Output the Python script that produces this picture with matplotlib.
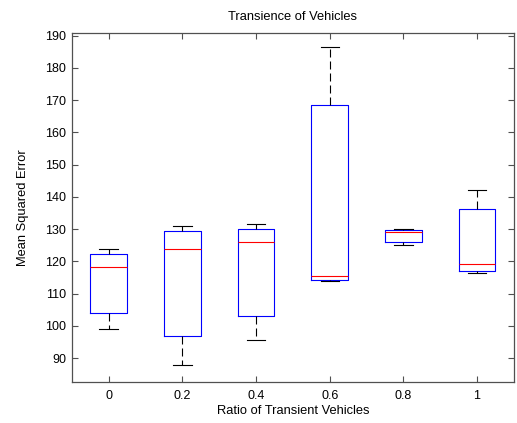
import numpy as np
import matplotlib
matplotlib.use('Agg')
import matplotlib.pyplot as plt

plt.rcParams['font.family'] = ['Liberation Sans', 'DejaVu Sans']

# box statistics
ratios = ['0', '0.2', '0.4', '0.6', '0.8', '1']
whislo = [98.9, 87.9, 95.7, 113.9, 125.2, 116.3]
q1 = [103.9, 97.0, 103.2, 114.1, 126.1, 117.0]
med = [118.2, 123.9, 125.9, 115.6, 129.0, 119.2]
q3 = [122.4, 129.3, 129.9, 168.6, 129.6, 136.3]
whishi = [123.9, 130.9, 131.6, 186.4, 129.9, 142.0]
yticks = list(range(90, 191, 10))

stats = []
for i in range(len(ratios)):
    stats.append({'whislo': whislo[i], 'q1': q1[i], 'med': med[i],
                  'q3': q3[i], 'whishi': whishi[i], 'fliers': []})

fig = plt.figure(figsize=(5.17, 4.23), dpi=100)
ax = fig.add_axes([0.139, 0.0976, 0.855, 0.825])

positions = np.arange(1, len(ratios) + 1)
lw = 0.8
ax.bxp(stats, positions=positions, widths=0.5, showfliers=False,
       boxprops=dict(color='blue', linewidth=lw),
       medianprops=dict(color='red', linewidth=lw),
       whiskerprops=dict(color='black', linewidth=lw, linestyle=(0, (7.2, 3.6))),
       capprops=dict(color='black', linewidth=lw),
       capwidths=0.25)

ax.set_xlim(0.5, 6.5)
ax.set_ylim(82.7, 190.9)
ax.set_xticks(positions)
ax.set_xticklabels(ratios)
ax.set_yticks(yticks)

for s in ax.spines.values():
    s.set_color('#505050')
    s.set_linewidth(0.9)
ax.tick_params(direction='in', length=4, width=0.8, color='#505050',
               top=True, right=True, labelsize=9, pad=4)
ax.tick_params(axis='x', pad=6)

ax.set_title('Transience of Vehicles', fontsize=9.3, pad=9)
ax.set_xlabel('Ratio of Transient Vehicles', fontsize=9.3, labelpad=2)
ax.set_ylabel('Mean Squared Error', fontsize=9.3, labelpad=12)

fig.savefig('out.png', dpi=100)
